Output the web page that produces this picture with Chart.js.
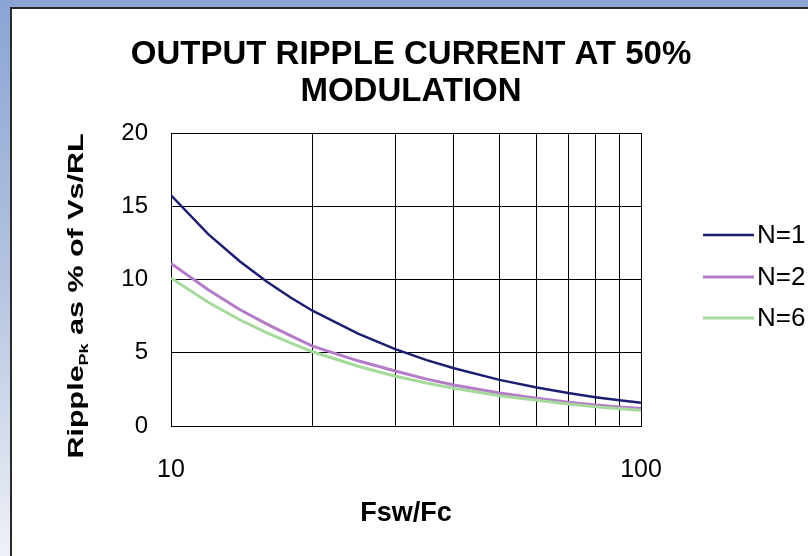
<!DOCTYPE html>
<html>
<head>
<meta charset="utf-8">
<script src="https://cdn.jsdelivr.net/npm/chart.js@4"></script>
<style>
  html, body { margin: 0; padding: 0; }
  body {
    width: 808px; height: 556px; overflow: hidden; position: relative;
    background: linear-gradient(to bottom, #8aa4d4 0%, #b4c3e0 50%, #eef1f7 100%);
    font-family: "Liberation Sans", Arial, sans-serif;
  }
  #panel {
    position: absolute; left: 10px; top: 7px; width: 820px; height: 600px;
    background: #ffffff; border-left: 2px solid #2a2a2a; border-top: 2px solid #2a2a2a;
  }
  #chart { position: absolute; left: 0; top: 0; }
</style>
</head>
<body>
<div id="panel"></div>
<canvas id="chart" width="808" height="556"></canvas>
<script>
// values
const fswFc = [10, 12, 14, 16, 18, 20, 25, 30, 35, 40, 50, 60, 70, 80, 90, 100];
const rippleN1 = [15.75, 13.1, 11.25, 9.85, 8.75, 7.87, 6.3, 5.25, 4.5, 3.94, 3.15, 2.63, 2.25, 1.97, 1.75, 1.58];
const rippleN2 = [11.1, 9.3, 7.95, 6.95, 6.15, 5.45, 4.45, 3.75, 3.2, 2.8, 2.25, 1.9, 1.62, 1.43, 1.3, 1.2];
const rippleN6 = [10.1, 8.45, 7.25, 6.35, 5.65, 5.07, 4.08, 3.4, 2.93, 2.57, 2.07, 1.75, 1.5, 1.32, 1.18, 1.07];
const seriesLabels = ['N=1', 'N=2', 'N=6'];
const xTickLabels = [10, 100];
const titleLines = ['OUTPUT RIPPLE CURRENT AT 50%', 'MODULATION'];

const FONT = '"Liberation Sans", Arial, sans-serif';
const colors = ['#1c1f70', '#b47cc8', '#a6da9c'];

const toPoints = ys => ys.map((y, i) => ({ x: fswFc[i], y }));

// Y axis title with subscript (stretched along its length like the original)
const yTitlePlugin = {
    id: 'yTitle',
    afterDraw(chart) {
        const ctx = chart.ctx;
        const big = 'bold 22px ' + FONT;
        const small = 'bold 13px ' + FONT;
        const parts = [
            { t: 'Ripple', f: big, dy: 0 },
            { t: 'Pk', f: small, dy: 5 },
            { t: ' as % of Vs/RL', f: big, dy: 0 }
        ];
        ctx.save();
        let total = 0;
        parts.forEach(p => { ctx.font = p.f; p.w = ctx.measureText(p.t).width; total += p.w; });
        ctx.translate(83, 296);
        ctx.rotate(-Math.PI / 2);
        ctx.scale(325 / total, 1);
        ctx.fillStyle = '#000';
        ctx.textBaseline = 'alphabetic';
        let x = -total / 2;
        parts.forEach(p => {
            ctx.font = p.f;
            ctx.fillText(p.t, x, p.dy);
            x += p.w;
        });
        ctx.restore();
    }
};

// legend on the right, running off the edge like the original
const legendPlugin = {
    id: 'sideLegend',
    afterDraw(chart) {
        const ctx = chart.ctx;
        const rows = [235, 277, 318];
        ctx.save();
        seriesLabels.forEach((label, i) => {
            ctx.strokeStyle = colors[i];
            ctx.lineWidth = i === 0 ? 2.5 : 3;
            ctx.beginPath();
            ctx.moveTo(703, rows[i]);
            ctx.lineTo(754, rows[i]);
            ctx.stroke();
            ctx.fillStyle = '#000';
            ctx.font = '26px ' + FONT;
            ctx.textBaseline = 'middle';
            ctx.fillText(label, 757, rows[i] + 1);
        });
        ctx.restore();
    }
};

new Chart(document.getElementById('chart'), {
    type: 'line',
    data: {
        datasets: [
            { label: seriesLabels[2], data: toPoints(rippleN6), borderColor: colors[2], borderWidth: 3 },
            { label: seriesLabels[1], data: toPoints(rippleN2), borderColor: colors[1], borderWidth: 3 },
            { label: seriesLabels[0], data: toPoints(rippleN1), borderColor: colors[0], borderWidth: 2.5 }
        ]
    },
    options: {
        responsive: false,
        animation: false,
        layout: { padding: { left: 14, right: 0, top: 0, bottom: 0 } },
        elements: { point: { radius: 0 }, line: { tension: 0 } },
        plugins: {
            legend: { display: false },
            tooltip: { enabled: false },
            title: {
                display: true,
                text: titleLines,
                color: '#000',
                font: { family: FONT, size: 33, weight: 'bold', lineHeight: '37px' },
                padding: { top: 36, bottom: 23 }
            }
        },
        scales: {
            x: {
                type: 'logarithmic',
                min: 10,
                max: 100,
                afterFit: s => { s.height = 130; },
                afterBuildTicks: s => { s.ticks = [10, 20, 30, 40, 50, 60, 70, 80, 90, 100].map(v => ({ value: v })); },
                grid: { color: '#000', lineWidth: 1, drawTicks: false },
                border: { color: '#000', width: 1 },
                ticks: {
                    autoSkip: false,
                    maxRotation: 0,
                    padding: 29,
                    color: '#000',
                    font: { family: FONT, size: 25 },
                    callback: v => xTickLabels.includes(v) ? String(v) : ''
                },
                title: {
                    display: true,
                    text: 'Fsw/Fc',
                    color: '#000',
                    font: { family: FONT, size: 27, weight: 'bold' },
                    padding: { top: 0, bottom: 26 }
                }
            },
            y: {
                min: 0,
                max: 20,
                afterFit: s => { s.width = 157; },
                grid: { color: '#000', lineWidth: 1, drawTicks: false },
                border: { color: '#000', width: 1 },
                ticks: {
                    stepSize: 5,
                    padding: 23,
                    color: '#000',
                    font: { family: FONT, size: 24 }
                }
            },
            // empty right-hand band that holds the legend space
            side: {
                position: 'right',
                display: true,
                afterFit: s => { s.width = 167; },
                grid: { display: false },
                border: { display: false },
                ticks: { display: false }
            }
        }
    },
    plugins: [yTitlePlugin, legendPlugin]
});
</script>
</body>
</html>
